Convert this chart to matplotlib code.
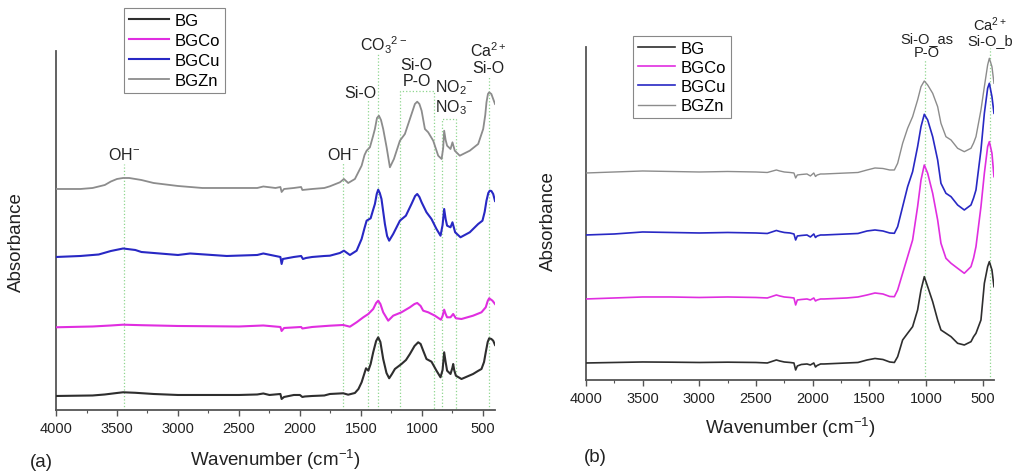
import numpy as np
import matplotlib
matplotlib.use("Agg")
import matplotlib.pyplot as plt
from matplotlib.ticker import MultipleLocator

plt.rcParams['font.family'] = ['Liberation Sans', 'DejaVu Sans']
plt.rcParams['mathtext.fontset'] = 'custom'
plt.rcParams['mathtext.rm'] = 'Liberation Sans'
plt.rcParams['mathtext.it'] = 'Liberation Sans:italic'
plt.rcParams['mathtext.bf'] = 'Liberation Sans:bold'

# ---------------- panel (a): spectra (absorbance, a.u., stacked) ----------------
a_bg_wn = [4000, 3700, 3600, 3500, 3450, 3350, 3200, 3000, 2500, 2350, 2300, 2250, 2160, 2150, 2130,
           2050, 2000, 1980, 1960, 1900, 1800, 1754, 1645, 1604, 1549, 1520, 1494, 1470, 1458, 1439,
           1420, 1399, 1375, 1358, 1340, 1317, 1290, 1268, 1245, 1221, 1167, 1130, 1098, 1060, 1030,
           1010, 989, 962, 921, 880, 847, 830, 817, 805, 793, 765, 750, 743, 735, 721, 675, 580, 540,
           511, 490, 476, 460, 448, 430, 415, 400]
a_bg = [0.14, 0.145, 0.155, 0.17, 0.177, 0.172, 0.16, 0.15, 0.15, 0.155, 0.165, 0.15, 0.16, 0.11, 0.13,
        0.15, 0.15, 0.13, 0.135, 0.14, 0.145, 0.16, 0.167, 0.153, 0.17, 0.21, 0.277, 0.37, 0.417, 0.393,
        0.46, 0.577, 0.69, 0.727, 0.68, 0.51, 0.37, 0.317, 0.36, 0.41, 0.46, 0.50, 0.56, 0.64, 0.677,
        0.66, 0.593, 0.51, 0.483, 0.393, 0.327, 0.40, 0.577, 0.48, 0.393, 0.36, 0.42, 0.46, 0.40, 0.343,
        0.31, 0.36, 0.39, 0.41, 0.48, 0.577, 0.68, 0.717, 0.71, 0.693, 0.65]

a_co_wn = [4000, 3700, 3550, 3450, 3300, 3000, 2500, 2300, 2160, 2150, 2130, 1990, 1980, 1900, 1754,
           1645, 1590, 1535, 1480, 1439, 1399, 1375, 1358, 1340, 1317, 1276, 1235, 1167, 1098, 1060,
           1038, 1010, 989, 948, 893, 844, 830, 817, 805, 793, 765, 743, 721, 675, 580, 511, 476, 460,
           448, 421, 400]
a_co = [0.827, 0.835, 0.845, 0.853, 0.848, 0.84, 0.835, 0.845, 0.83, 0.79, 0.82, 0.83, 0.815, 0.83, 0.843,
        0.85, 0.833, 0.877, 0.927, 0.96, 1.01, 1.07, 1.093, 1.06, 0.977, 0.893, 0.943, 0.977, 1.027, 1.06,
        1.07, 1.04, 0.993, 0.977, 0.943, 0.903, 0.94, 1.003, 0.96, 0.927, 0.927, 0.96, 0.917, 0.91, 0.943,
        0.977, 1.027, 1.09, 1.117, 1.093, 1.06]

a_cu_wn = [4000, 3800, 3650, 3550, 3450, 3350, 3300, 3000, 2900, 2600, 2350, 2300, 2200, 2160, 2150,
           2140, 2050, 1990, 1975, 1950, 1900, 1800, 1754, 1672, 1639, 1590, 1535, 1494, 1470, 1453,
           1420, 1400, 1385, 1370, 1358, 1345, 1331, 1303, 1285, 1268, 1235, 1180, 1131, 1085, 1055,
           1038, 1020, 1002, 962, 921, 880, 847, 830, 817, 805, 793, 765, 749, 727, 683, 607, 538, 503,
           485, 470, 455, 443, 430, 415, 400]
a_cu = [1.53, 1.54, 1.555, 1.59, 1.615, 1.60, 1.58, 1.55, 1.565, 1.54, 1.55, 1.565, 1.54, 1.53, 1.46,
        1.51, 1.53, 1.54, 1.51, 1.52, 1.53, 1.54, 1.543, 1.57, 1.593, 1.55, 1.593, 1.71, 1.82, 1.893,
        1.917, 2.00, 2.06, 2.16, 2.203, 2.17, 2.11, 1.86, 1.74, 1.693, 1.76, 1.893, 1.943, 2.06, 2.14,
        2.16, 2.13, 2.077, 1.977, 1.91, 1.81, 1.743, 1.85, 2.01, 1.91, 1.843, 1.827, 1.877, 1.777, 1.727,
        1.777, 1.86, 1.893, 1.98, 2.093, 2.17, 2.193, 2.19, 2.16, 2.09]

a_zn_wn = [4000, 3800, 3700, 3650, 3600, 3550, 3500, 3450, 3400, 3350, 3300, 3200, 3100, 3000, 2900,
           2800, 2500, 2350, 2300, 2200, 2160, 2150, 2130, 2050, 1990, 1980, 1900, 1800, 1754, 1672,
           1639, 1604, 1549, 1494, 1470, 1453, 1426, 1400, 1385, 1368, 1352, 1335, 1317, 1289, 1262,
           1229, 1180, 1139, 1098, 1057, 1038, 1020, 1002, 975, 948, 907, 866, 838, 825, 817, 805, 793,
           765, 749, 730, 689, 607, 538, 497, 480, 470, 458, 448, 430, 415, 400]
a_zn = [2.21, 2.21, 2.22, 2.235, 2.25, 2.285, 2.31, 2.32, 2.32, 2.31, 2.30, 2.27, 2.255, 2.24, 2.23,
        2.22, 2.22, 2.22, 2.235, 2.22, 2.23, 2.18, 2.21, 2.22, 2.23, 2.20, 2.21, 2.22, 2.237, 2.277,
        2.31, 2.27, 2.31, 2.443, 2.55, 2.593, 2.627, 2.74, 2.81, 2.92, 2.943, 2.90, 2.81, 2.627, 2.427,
        2.51, 2.693, 2.76, 2.91, 3.06, 3.083, 3.06, 2.993, 2.81, 2.777, 2.693, 2.543, 2.51, 2.62, 2.793,
        2.70, 2.643, 2.61, 2.677, 2.593, 2.543, 2.593, 2.66, 2.81, 2.95, 3.077, 3.16, 3.177, 3.16, 3.11,
        3.06]

# band markers for panel (a)
a_single_wn = [3443, 1645, 1445, 1358, 448]
a_single_top = [2.46, 2.48, 3.11, 3.56, 3.33]
a_brackets = [(1180, 901, 3.19), (838, 716, 2.91)]
a_labels = ['OH$^{-}$', 'OH$^{-}$', 'Si-O', 'CO$_3$$^{2-}$', 'Si-O\nP-O', 'NO$_2$$^{-}$\nNO$_3$$^{-}$', 'Ca$^{2+}$\nSi-O']
a_label_wn = [3443, 1645, 1508, 1317, 1044, 730, 456]
a_label_y = [2.56, 2.56, 3.17, 3.66, 3.375, 3.135, 3.52]

# ---------------- panel (b) ----------------
b_wn = [4000, 3750, 3500, 3250, 3000, 2750, 2500, 2400, 2320, 2290, 2250, 2200, 2165, 2150, 2135,
        2100, 2050, 2020, 1990, 1975, 1960, 1930, 1900, 1800, 1700, 1600, 1520, 1450, 1380, 1320,
        1279, 1250, 1206, 1162, 1118, 1074, 1044, 1015, 985, 941, 897, 868, 824, 779, 721, 662, 603,
        580, 559, 515, 485, 456, 441, 418, 400]
b_bg = [0.17, 0.175, 0.18, 0.178, 0.175, 0.178, 0.175, 0.17, 0.20, 0.19, 0.18, 0.175, 0.17, 0.10, 0.14,
        0.155, 0.16, 0.15, 0.17, 0.13, 0.145, 0.16, 0.16, 0.165, 0.17, 0.175, 0.20, 0.215, 0.205, 0.18,
        0.175, 0.233, 0.40, 0.467, 0.533, 0.70, 0.90, 1.033, 0.933, 0.783, 0.60, 0.50, 0.467, 0.433,
        0.367, 0.35, 0.383, 0.433, 0.467, 0.60, 0.967, 1.133, 1.183, 1.10, 0.933]
b_co = [0.81, 0.82, 0.83, 0.83, 0.825, 0.83, 0.825, 0.82, 0.85, 0.84, 0.83, 0.825, 0.82, 0.75, 0.80,
        0.805, 0.81, 0.80, 0.82, 0.79, 0.80, 0.81, 0.81, 0.815, 0.82, 0.83, 0.85, 0.87, 0.86, 0.835,
        0.833, 0.90, 1.067, 1.233, 1.40, 1.733, 2.00, 2.15, 2.067, 1.867, 1.60, 1.367, 1.217, 1.167,
        1.117, 1.067, 1.133, 1.22, 1.333, 1.733, 2.067, 2.333, 2.383, 2.267, 2.033]
b_cu = [1.45, 1.46, 1.48, 1.475, 1.47, 1.475, 1.47, 1.465, 1.495, 1.485, 1.475, 1.47, 1.46, 1.40, 1.44,
        1.445, 1.45, 1.43, 1.46, 1.425, 1.44, 1.45, 1.45, 1.455, 1.46, 1.465, 1.49, 1.50, 1.49, 1.47,
        1.467, 1.533, 1.733, 1.933, 2.083, 2.333, 2.533, 2.657, 2.60, 2.433, 2.20, 1.967, 1.867, 1.833,
        1.75, 1.70, 1.75, 1.82, 1.90, 2.30, 2.667, 2.917, 2.967, 2.833, 2.667]
b_zn = [2.07, 2.08, 2.09, 2.085, 2.08, 2.085, 2.08, 2.075, 2.10, 2.09, 2.08, 2.075, 2.07, 2.02, 2.05,
        2.055, 2.06, 2.04, 2.07, 2.035, 2.05, 2.06, 2.06, 2.065, 2.07, 2.075, 2.10, 2.12, 2.115, 2.10,
        2.10, 2.167, 2.367, 2.517, 2.633, 2.80, 2.933, 2.99, 2.95, 2.867, 2.733, 2.567, 2.433, 2.40,
        2.317, 2.283, 2.317, 2.37, 2.433, 2.70, 2.933, 3.15, 3.217, 3.133, 2.967]

b_single_wn = [1005, 435]
b_single_top = [3.2, 3.32]
b_labels = ['Si-O_as\nP-O', 'Ca$^{2+}$\nSi-O_b']
b_label_wn = [995, 432]
b_label_y = [3.345, 3.495]

names = ['BG', 'BGCo', 'BGCu', 'BGZn']
colors = ['#2e2e2e', '#e02ee0', '#2828c4', '#8c8c8c']
guide_col = '#8fd68f'

fig = plt.figure(figsize=(10.15, 4.77), dpi=100)
ax1 = fig.add_axes([0.0552, 0.1384, 0.4325, 0.7526])
ax2 = fig.add_axes([0.5773, 0.2013, 0.4020, 0.6981])


def style_axis(ax, ymax):
    ax.set_xlim(4000, 400)
    ax.set_ylim(0, ymax)
    for s in ['top', 'right']:
        ax.spines[s].set_visible(False)
    for s in ['left', 'bottom']:
        ax.spines[s].set_color('#555555')
        ax.spines[s].set_linewidth(1.3)
    ax.set_yticks([])
    ax.xaxis.set_major_locator(MultipleLocator(500))
    ax.xaxis.set_minor_locator(MultipleLocator(250))
    ax.tick_params(axis='x', which='major', direction='out', length=4, width=1, color='#555555',
                   labelsize=10.5, pad=4, labelcolor='#222222')
    ax.tick_params(axis='x', which='minor', direction='out', length=2.5, width=0.8, color='#555555')
    ax.set_xlabel('Wavenumber (cm$^{-1}$)', fontsize=13.5, color='#222222')
    ax.set_ylabel('Absorbance', fontsize=13.5, color='#222222')


# panel (a)
style_axis(ax1, 3.59)
for wn, top in zip(a_single_wn, a_single_top):
    ax1.plot([wn, wn], [0, top], ls=':', lw=0.9, color=guide_col, zorder=1)
for w1, w2, top in a_brackets:
    ax1.plot([w1, w1, w2, w2], [0, top, top, 0], ls=':', lw=0.9, color=guide_col, zorder=1)
for wn, yy, c, n in zip([a_bg_wn, a_co_wn, a_cu_wn, a_zn_wn], [a_bg, a_co, a_cu, a_zn], colors, names):
    ax1.plot(wn, yy, color=c, lw=1.5 if n != 'BGZn' else 1.3, label=n, zorder=3)
for t, wn, yy in zip(a_labels, a_label_wn, a_label_y):
    ax1.text(wn, yy, t, ha='center', va='center', fontsize=11.5, color='#222222',
             linespacing=1.1, clip_on=False)
ax1.xaxis.set_label_coords(0.5, -0.104)
ax1.yaxis.set_label_coords(-0.071, 0.47)
leg1 = ax1.legend(loc='upper left', bbox_to_anchor=(0.155, 1.12), fontsize=12, frameon=True,
                  fancybox=False, edgecolor='#888888', framealpha=1, borderaxespad=0,
                  handlelength=2.4, handletextpad=0.35, labelspacing=0.3, borderpad=0.3)
leg1.get_frame().set_linewidth(0.8)

# panel (b)
style_axis(ax2, 3.33)
for wn, top in zip(b_single_wn, b_single_top):
    ax2.plot([wn, wn], [0, top], ls=':', lw=0.9, color=guide_col, zorder=1)
for yy, c, n in zip([b_bg, b_co, b_cu, b_zn], colors, names):
    ax2.plot(b_wn, yy, color=c, lw=1.2 if n != 'BGZn' else 1.0, label=n, zorder=3)
for t, wn, yy in zip(b_labels, b_label_wn, b_label_y):
    ax2.text(wn, yy, t, ha='center', va='center', fontsize=10.5, color='#222222',
             linespacing=1.0, clip_on=False)
ax2.xaxis.set_label_coords(0.5, -0.106)
ax2.yaxis.set_label_coords(-0.071, 0.48)
leg2 = ax2.legend(loc='upper left', bbox_to_anchor=(0.115, 1.033), fontsize=12, frameon=True,
                  fancybox=False, edgecolor='#888888', framealpha=1, borderaxespad=0,
                  handlelength=2.2, handletextpad=0.35, labelspacing=0.25, borderpad=0.3)
leg2.get_frame().set_linewidth(0.8)

fig.text(41 / 1015, 1 - 463 / 477, '(a)', ha='center', va='center', fontsize=13.5, color='#222222')
fig.text(595 / 1015, 1 - 458 / 477, '(b)', ha='center', va='center', fontsize=13.5, color='#222222')

fig.savefig('out.png', dpi=100)
